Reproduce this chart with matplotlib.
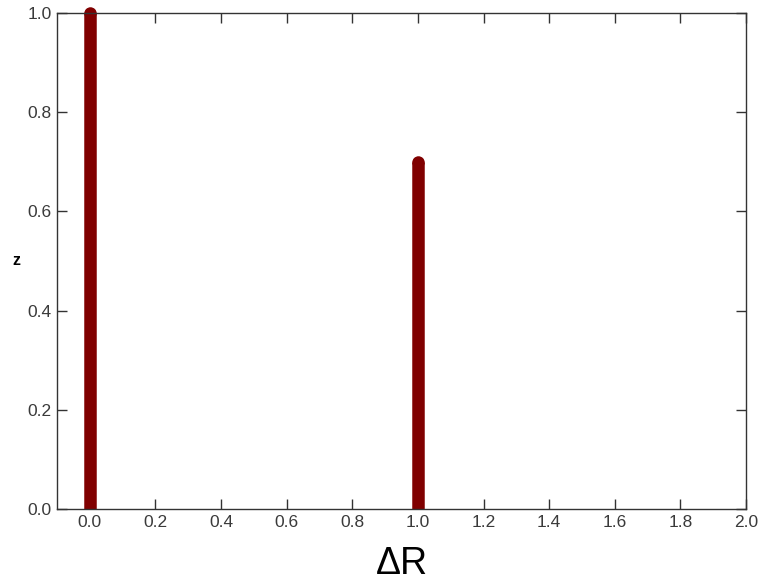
import matplotlib
matplotlib.use('Agg')
from matplotlib import pyplot as plt
import numpy as np

plt.rcParams['font.family'] = ['Liberation Sans', 'DejaVu Sans']

dR = [0.0, 1.0]   # positions
z = [1.0, 0.7]    # heights
xticks = [0.0, 0.2, 0.4, 0.6, 0.8, 1.0, 1.2, 1.4, 1.6, 1.8, 2.0]
yticks = [0.0, 0.2, 0.4, 0.6, 0.8, 1.0]

fig = plt.figure(figsize=(7.59, 5.85), dpi=100)
ax = fig.add_axes([0.0751, 0.1299, 0.9078, 0.8479])

barcol = '#800000'
for x, h in zip(dR, z):
    ax.plot([x, x], [0, h], color=barcol, lw=9, solid_capstyle='butt')
    # rounded top
    ax.plot([x], [h], 'o', color=barcol, ms=9, mec='none', clip_on=False)

ax.set_xlim(-0.1, 2.0)
ax.set_ylim(0, 1.0)
ax.set_xticks(xticks)
ax.set_yticks(yticks)
ax.set_xticklabels(['%.1f' % v for v in xticks])
ax.set_yticklabels(['%.1f' % v for v in yticks])
ax.tick_params(direction='in', length=7, width=1, top=True, right=True,
               labelsize=12.5, labelcolor='#3a3a3a', color='#333333', pad=4)
for s in ax.spines.values():
    s.set_color('#333333')
    s.set_linewidth(1)

ax.set_xlabel('ΔR', fontsize=27, labelpad=12)
ax.set_ylabel('z', fontsize=11.5, fontweight='bold', rotation=0, labelpad=8, va='center')

fig.savefig('out.png', dpi=100)
